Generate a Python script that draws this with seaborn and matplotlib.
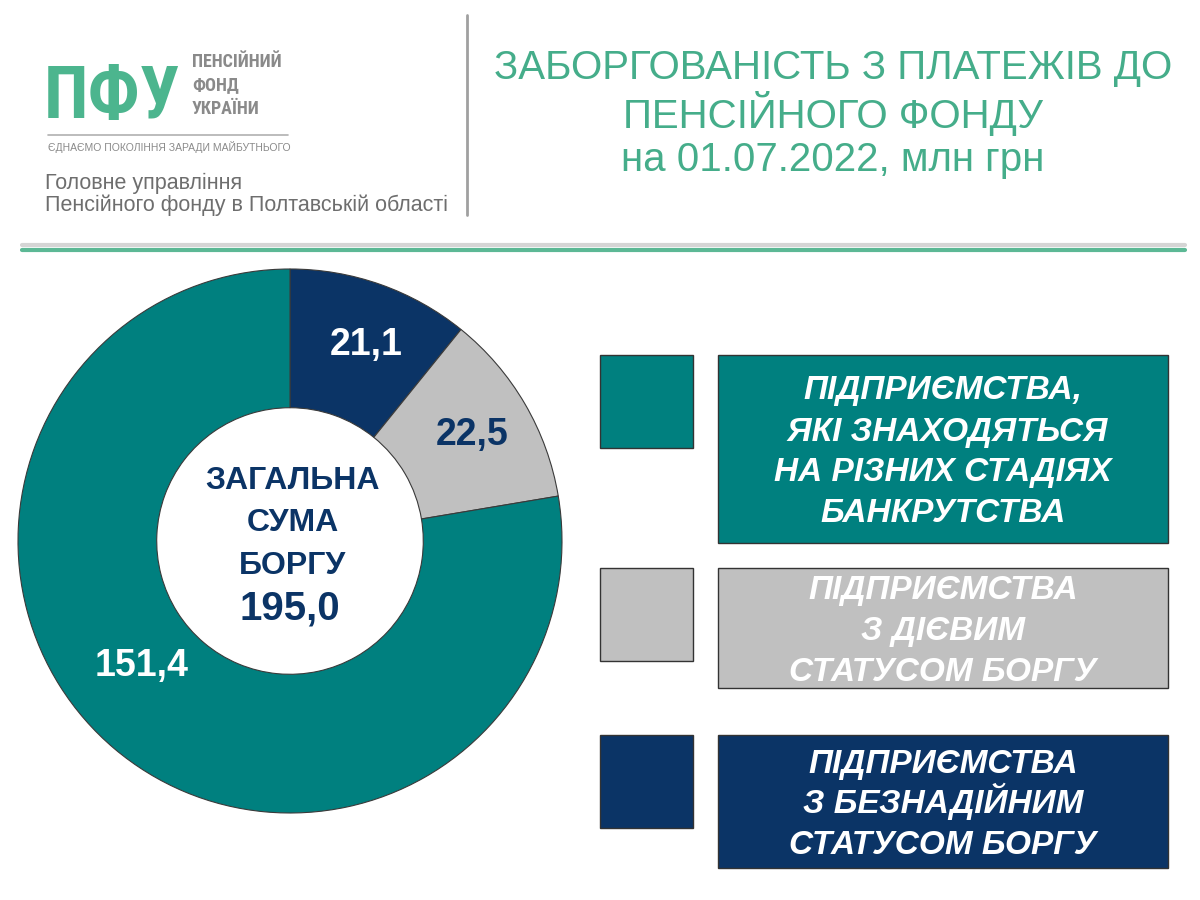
import matplotlib
matplotlib.use("Agg")
import matplotlib.pyplot as plt
import matplotlib.patches as mpatches
import seaborn as sns
from matplotlib import font_manager

# ---- data ----
categories = [
    "ПІДПРИЄМСТВА\nЗ БЕЗНАДІЙНИМ\nСТАТУСОМ БОРГУ",
    "ПІДПРИЄМСТВА\nЗ ДІЄВИМ\nСТАТУСОМ БОРГУ",
    "ПІДПРИЄМСТВА,\n ЯКІ ЗНАХОДЯТЬСЯ\nНА РІЗНИХ СТАДІЯХ\nБАНКРУТСТВА",
]
values = [21.1, 22.5, 151.4]
value_labels = ["21,1", "22,5", "151,4"]
center_lines = ["ЗАГАЛЬНА", "СУМА", "БОРГУ"]
total_label = "195,0"
title_lines = ["ЗАБОРГОВАНІСТЬ З ПЛАТЕЖІВ ДО", "ПЕНСІЙНОГО ФОНДУ", "на 01.07.2022, млн грн"]

sns.set_theme(style="white")
plt.rcParams["font.family"] = ["Liberation Sans", "DejaVu Sans"]

# look for a condensed face for the logo
cond_family, cond_stretch, has_cond = "Liberation Sans", "normal", False
for f in font_manager.fontManager.ttflist:
    if f.name in ("Liberation Sans Narrow", "Roboto Condensed", "Open Sans Condensed"):
        cond_family, has_cond = f.name, True
        break
if not has_cond:
    for f in font_manager.fontManager.ttflist:
        if f.name == "DejaVu Sans" and str(f.stretch) in ("condensed", "semi-condensed"):
            cond_family, cond_stretch, has_cond = "DejaVu Sans", "condensed", True
            break

palette = sns.color_palette(["#0B3466", "#C0C0C0", "#00807F"])
label_colors = ["white", "#0B3466", "white"]
green = "#45AD8A"
gray_text = "#6E6E6E"

fig = plt.figure(figsize=(12, 9), dpi=100)
fig.patch.set_facecolor("white")

ov = fig.add_axes([0, 0, 1, 1])
ov.set_xlim(0, 1200)
ov.set_ylim(900, 0)
ov.axis("off")

# header logo
ov.text(44, 118, "ПФУ", fontsize=(52 if has_cond else 48), fontweight="bold", color="#4CB58E",
        family=[cond_family, "DejaVu Sans"], fontstretch=cond_stretch, va="baseline", ha="left")
for i, t in enumerate(["ПЕНСІЙНИЙ", "ФОНД", "УКРАЇНИ"]):
    ov.text(192, 62 + i * 23.5, t, fontsize=(13 if has_cond else 11.5), fontweight="bold",
            color="#8A8A8A", family=[cond_family, "DejaVu Sans"], fontstretch=cond_stretch,
            va="center", ha="left")
ov.plot([48, 288], [135, 135], color="#B0B0B0", lw=1.2)
ov.text(48, 147, "ЄДНАЄМО ПОКОЛІННЯ ЗАРАДИ МАЙБУТНЬОГО", fontsize=7.5, color="#8A8A8A",
        va="center", ha="left")
ov.text(45, 183, "Головне управління", fontsize=15.5, color=gray_text, va="center", ha="left")
ov.text(45, 205, "Пенсійного фонду в Полтавській області", fontsize=15.5, color=gray_text,
        va="center", ha="left")
ov.plot([467, 467], [15, 215], color="#A0A0A0", lw=2)
ov.plot([22, 1185], [245, 245], color="#D5D5D5", lw=3)
ov.plot([22, 1185], [250, 250], color="#5CB895", lw=3)

for i, t in enumerate(title_lines):
    ov.text(833, 68 + i * 46, t, fontsize=29, color=green, va="center", ha="center")

# legend boxes
sq_y = [735, 568, 355]
box = [(735, 868), (568, 688), (355, 543)]
for c, cat, sy, (y0, y1) in zip(palette, categories, sq_y, box):
    ov.add_patch(mpatches.Rectangle((600, sy), 93, 93, facecolor=c, edgecolor="#333333", lw=1))
    ov.add_patch(mpatches.Rectangle((718, y0), 450, y1 - y0, facecolor=c, edgecolor="#333333", lw=1))
    lines = cat.split("\n")
    yc = (y0 + y1) / 2
    step = 41
    for k, ln in enumerate(lines):
        ov.text(943, yc + (k - (len(lines) - 1) / 2) * step + 12, ln, fontsize=24,
                fontweight="bold", fontstyle="italic", color="white",
                ha="center", va="baseline")

# donut
ax = fig.add_axes([18 / 1200, (900 - 541 - 272) / 900, 544 / 1200, 544 / 900])
wedges, texts, autotexts = ax.pie(
    values, colors=palette, startangle=90, counterclock=False, radius=1,
    wedgeprops=dict(width=0.51, edgecolor="#3A3A3A", linewidth=0.8),
    autopct="%1.1f", pctdistance=0.77,
)
for t, lab, col in zip(autotexts, value_labels, label_colors):
    t.set_text(lab)
    t.set_color(col)
    t.set_fontsize(27)
    t.set_fontweight("bold")
autotexts[0].set_position((0.28, 0.72))
autotexts[1].set_position((0.67, 0.39))
autotexts[2].set_position((-0.545, -0.46))
ax.set_xlim(-1.0, 1.0)
ax.set_ylim(-1.0, 1.0)
for k, ln in enumerate(center_lines):
    ax.text(0.01, 0.235 - k * 0.158 - 0.042, ln, fontsize=23, fontweight="bold", color="#0B3466",
            ha="center", va="baseline")
ax.text(0.0, -0.235 - 0.053, total_label, fontsize=29, fontweight="bold", color="#0B3466",
        ha="center", va="baseline")

fig.savefig("out.png", dpi=100, facecolor="white")
